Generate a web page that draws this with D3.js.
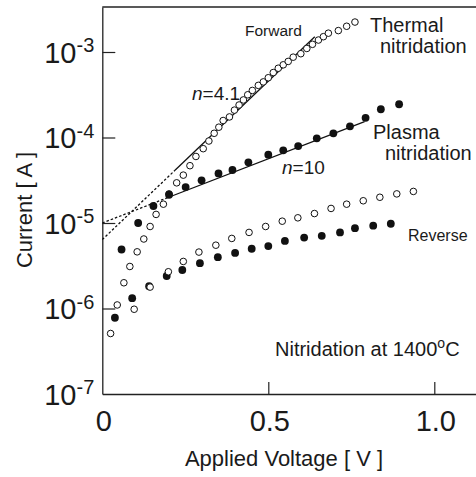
<!DOCTYPE html>
<html>
<head>
<meta charset="utf-8">
<script src="https://cdn.jsdelivr.net/npm/d3@7"></script>
<style>
  body { margin: 0; background: #fff; }
  text { font-family: "Liberation Sans", Arial, Helvetica, sans-serif; fill: #1a1a1a; }
</style>
</head>
<body>
<div id="chart"></div>
<script>
// Forward bias, thermal nitridation (open circles)
const thermalFwdV = [0.025, 0.045, 0.065, 0.083, 0.105, 0.125, 0.144, 0.162, 0.184, 0.201, 0.224, 0.244, 0.264, 0.282,
  0.304, 0.321, 0.337, 0.351, 0.364, 0.383, 0.398, 0.412, 0.425, 0.438, 0.452, 0.470, 0.485, 0.500, 0.515, 0.530,
  0.545, 0.560, 0.575, 0.598, 0.616, 0.633, 0.651, 0.666, 0.681, 0.711, 0.736, 0.761];
const thermalFwdI = [5.1e-7, 1.1e-6, 2.0e-6, 3.1e-6, 4.6e-6, 6.5e-6, 9.1e-6, 1.26e-5, 1.66e-5, 2.19e-5, 2.95e-5, 3.63e-5,
  4.68e-5, 6.0e-5, 7.4e-5, 9.1e-5, 1.12e-4, 1.32e-4, 1.58e-4, 1.74e-4, 2.09e-4, 2.40e-4, 2.75e-4, 3.16e-4, 3.55e-4,
  4.07e-4, 4.47e-4, 5.0e-4, 5.75e-4, 6.46e-4, 7.08e-4, 7.76e-4, 8.7e-4, 9.55e-4, 1.10e-3, 1.23e-3, 1.38e-3, 1.51e-3,
  1.66e-3, 1.78e-3, 2.0e-3, 2.24e-3];

// Forward bias, plasma nitridation (filled circles)
const plasmaFwdV = [0.058, 0.108, 0.154, 0.201, 0.251, 0.299, 0.350, 0.392, 0.440, 0.500, 0.545, 0.590, 0.646, 0.696,
  0.746, 0.793, 0.839, 0.894];
const plasmaFwdI = [4.9e-6, 1.0e-5, 1.58e-5, 2.14e-5, 2.63e-5, 3.16e-5, 3.8e-5, 4.17e-5, 5.13e-5, 6.3e-5, 7.08e-5,
  7.94e-5, 9.77e-5, 1.12e-4, 1.35e-4, 1.70e-4, 2.14e-4, 2.45e-4];

// Reverse bias, thermal nitridation (open circles)
const thermalRevV = [0.096, 0.144, 0.199, 0.244, 0.291, 0.342, 0.390, 0.442, 0.492, 0.542, 0.589, 0.639, 0.689, 0.736,
  0.786, 0.836, 0.887, 0.937];
const thermalRevI = [9.8e-7, 1.78e-6, 2.69e-6, 3.55e-6, 4.57e-6, 5.5e-6, 6.6e-6, 7.76e-6, 9.1e-6, 1.05e-5, 1.15e-5,
  1.29e-5, 1.48e-5, 1.66e-5, 1.82e-5, 2.0e-5, 2.19e-5, 2.34e-5];

// Reverse bias, plasma nitridation (filled circles)
const plasmaRevV = [0.038, 0.090, 0.141, 0.194, 0.241, 0.294, 0.348, 0.400, 0.450, 0.500, 0.550, 0.608, 0.661, 0.716,
  0.761, 0.816, 0.869];
const plasmaRevI = [7.8e-7, 1.32e-6, 1.82e-6, 2.4e-6, 2.82e-6, 3.39e-6, 3.98e-6, 4.47e-6, 5.0e-6, 5.37e-6, 6.17e-6,
  6.76e-6, 7.08e-6, 7.76e-6, 8.7e-6, 9.3e-6, 9.8e-6];

// ideality-factor fit lines: [V, I] end points
const thermalFitSolid = [[0.219, 4.14e-5], [0.640, 1.51e-3]];
const thermalFitDashed = [[0, 6.4e-6], [0.219, 4.14e-5]];
const plasmaFitSolid = [[0.20, 2.0e-5], [0.79, 1.53e-4]];
const plasmaFitDashed = [[0, 1.0e-5], [0.20, 2.0e-5]];

const xTicks = [0, 0.5, 1.0];
const xTickLabels = ["0", "0.5", "1.0"];
const yTicks = [1e-7, 1e-6, 1e-5, 1e-4, 1e-3];
const yTickExps = ["-7", "-6", "-5", "-4", "-3"];

const W = 476, H = 477;
const margin = {top: 7, left: 102.3, bottom: 83};
const plotH = H - margin.top - margin.bottom;

const svg = d3.select("#chart").append("svg")
  .attr("width", W)
  .attr("height", H);

svg.append("rect").attr("width", W).attr("height", H).attr("fill", "#fff");

const g = svg.append("g")
  .attr("transform", `translate(${margin.left},${margin.top})`);

// scales
const x = d3.scaleLinear()
  .domain([0, 1.0])
  .range([0, 332]);
const xMax = x.invert(W - margin.left);
x.domain([0, xMax]).range([0, W - margin.left]);

const y = d3.scaleLog()
  .domain([1e-7, Math.pow(10, -7 + plotH / 85.5)])
  .range([plotH, 0]);

// x axis (ticks inside)
const xAxis = g.append("g")
  .attr("transform", `translate(0,${plotH})`)
  .call(d3.axisBottom(x).tickValues(xTicks.slice(1))
    .tickFormat("").tickSizeInner(-12).tickSizeOuter(0));
xAxis.select(".domain").attr("stroke", "#222").attr("stroke-width", 1.3);
xAxis.selectAll(".tick line").attr("stroke", "#222").attr("stroke-width", 1.2);

g.selectAll(".xlab")
  .data(xTicks)
  .enter()
  .append("text")
  .attr("x", d => x(d) + 1.5)
  .attr("y", plotH + 37)
  .attr("text-anchor", "middle")
  .style("font-size", "29px")
  .text((d, i) => xTickLabels[i]);

// y axis (ticks inside)
const yAxis = g.append("g")
  .call(d3.axisLeft(y).tickValues(yTicks.slice(1))
    .tickFormat("").tickSizeInner(-13).tickSizeOuter(0));
yAxis.select(".domain").attr("stroke", "#222").attr("stroke-width", 1.3);
yAxis.selectAll(".tick line").attr("stroke", "#222").attr("stroke-width", 1.2);

// top frame line
g.append("line")
  .attr("x1", 0).attr("x2", W - margin.left)
  .attr("y1", 0).attr("y2", 0)
  .attr("stroke", "#222").attr("stroke-width", 1.3);

yTicks.forEach((t, i) => {
  const lab = g.append("text")
    .attr("x", -8)
    .attr("y", y(t) + 10.5)
    .attr("text-anchor", "end")
    .style("font-size", "29px");
  lab.append("tspan").text("10");
  lab.append("tspan")
    .attr("dy", -10.5)
    .style("font-size", "20px")
    .text(yTickExps[i]);
});

// axis titles
svg.append("text")
  .attr("x", 284)
  .attr("y", 466)
  .attr("text-anchor", "middle")
  .style("font-size", "22px")
  .text("Applied Voltage [ V ]");

svg.append("text")
  .attr("transform", "translate(32,210) rotate(-90)")
  .attr("text-anchor", "middle")
  .style("font-size", "22px")
  .text("Current  [ A ]");

// fit lines
const line = d3.line()
  .x(d => x(d[0]))
  .y(d => y(d[1]));

[thermalFitDashed, plasmaFitDashed].forEach(seg => {
  g.append("path")
    .datum(seg)
    .attr("fill", "none")
    .attr("stroke", "#111")
    .attr("stroke-width", 1.3)
    .attr("stroke-dasharray", "2.5,2")
    .attr("d", line);
});
[thermalFitSolid, plasmaFitSolid].forEach(seg => {
  g.append("path")
    .datum(seg)
    .attr("fill", "none")
    .attr("stroke", "#111")
    .attr("stroke-width", 1.3)
    .attr("d", line);
});

// markers
function drawPoints(vs, is, filled) {
  g.append("g")
    .selectAll("circle")
    .data(vs.map((v, i) => [v, is[i]]))
    .enter()
    .append("circle")
    .attr("cx", d => x(d[0]))
    .attr("cy", d => y(d[1]))
    .attr("r", filled ? 3.9 : 3.3)
    .attr("fill", filled ? "#111" : "#fff")
    .attr("stroke", "#111")
    .attr("stroke-width", filled ? 0 : 1);
}
drawPoints(plasmaRevV, plasmaRevI, true);
drawPoints(thermalRevV, thermalRevI, false);
drawPoints(thermalFwdV, thermalFwdI, false);
drawPoints(plasmaFwdV, plasmaFwdI, true);

// annotations
function label(txt, px, py, size) {
  return svg.append("text")
    .attr("x", px).attr("y", py)
    .style("font-size", size + "px")
    .text(txt);
}
label("Forward", 245, 36, 15.5);
label("Thermal", 370, 32, 20);
label("nitridation", 380, 53, 20);
label("Plasma", 373, 139, 20);
label("nitridation", 385, 160, 20);
label("Reverse", 408, 241, 16);

function nLabel(val, px, py) {
  const t = svg.append("text")
    .attr("x", px).attr("y", py)
    .style("font-size", "19px");
  t.append("tspan").style("font-style", "italic").text("n");
  t.append("tspan").text("=" + val);
}
nLabel("4.1", 192, 100);
nLabel("10", 282, 174);

const cond = svg.append("text")
  .attr("x", 275).attr("y", 356)
  .style("font-size", "20px");
cond.append("tspan").text("Nitridation at 1400");
cond.append("tspan").attr("dy", -8).style("font-size", "14px").text("o");
cond.append("tspan").attr("dy", 8).text("C");
</script>
</body>
</html>
